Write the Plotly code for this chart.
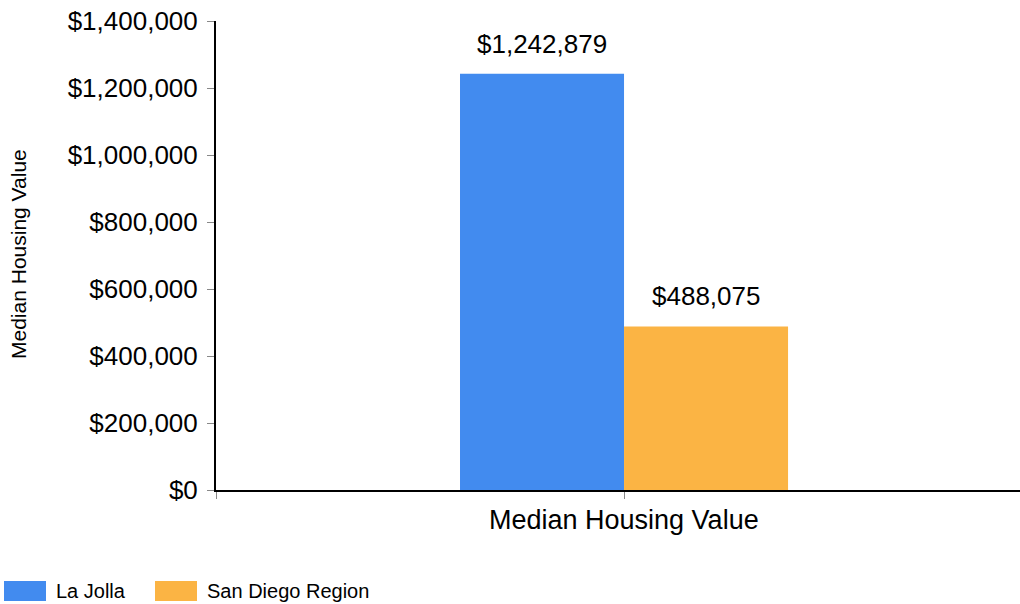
import plotly.graph_objects as go

series_names = ["La Jolla", "San Diego Region"]
values = [1242879, 488075]
colors = ["#428BEF", "#FBB444"]
category = "Median Housing Value"
y_ticks = [0, 200000, 400000, 600000, 800000, 1000000, 1200000, 1400000]

FONT = "Liberation Sans, Arial, sans-serif"
W, H = 1020, 604
L, R, T, B = 216, 0, 21, 114
PW, PH = W - L - R, H - T - B
BARGAP = 0.592
XR = [-0.5075, 0.4925]

def px_x(x):
    return (x - L) / PW

def px_y(y):
    return (H - B - y) / PH

fig = go.Figure()
for name, v, c in zip(series_names, values, colors):
    fig.add_trace(go.Bar(
        x=[0], y=[v], name=name, marker=dict(color=c, line=dict(width=0)),
        showlegend=False,
    ))

# value labels above bars
bw = (1 - BARGAP) / len(values)
for i, v in enumerate(values):
    xc = -(1 - BARGAP) / 2 + bw * (i + 0.5)
    fig.add_annotation(x=xc, y=v, xref="x", yref="y", text=f"${v:,.0f}",
                       showarrow=False, yanchor="bottom", yshift=13,
                       font=dict(family=FONT, size=26, color="#000"))

fig.update_layout(
    width=W, height=H,
    margin=dict(l=L, r=R, t=T, b=B),
    paper_bgcolor="white", plot_bgcolor="white",
    barmode="group", bargap=BARGAP, bargroupgap=0,
    font=dict(family=FONT, color="#000"),
    xaxis=dict(
        range=XR, tickvals=[XR[0], 0], ticktext=["", ""],
        ticks="outside", ticklen=7, tickcolor="#888", tickwidth=1,
        showline=True, linecolor="#000", linewidth=2, showgrid=False, zeroline=False,
    ),
    yaxis=dict(
        range=[0, 1400000], tickvals=y_ticks,
        ticktext=[f"${t:,.0f}" for t in y_ticks],
        tickfont=dict(family=FONT, size=26, color="#000"),
        ticks="outside", ticklen=7, tickcolor="#888", tickwidth=1,
        ticklabelstandoff=4,
        showline=True, linecolor="#000", linewidth=2, showgrid=False, zeroline=False,
    ),
)

# axis titles
fig.add_annotation(xref="paper", yref="paper", x=px_x(624), y=px_y(520),
                   text=category, showarrow=False, xanchor="center", yanchor="middle",
                   font=dict(family=FONT, size=27, color="#000"))
fig.add_annotation(xref="paper", yref="paper", x=px_x(18), y=px_y(254),
                   text=category, showarrow=False, textangle=-90,
                   xanchor="center", yanchor="middle",
                   font=dict(family=FONT, size=21, color="#000"))

# legend (custom swatches at bottom-left)
leg_x = [4, 155]
for name, c, lx in zip(series_names, colors, leg_x):
    fig.add_shape(type="rect", xref="paper", yref="paper",
                  x0=px_x(lx), x1=px_x(lx + 42),
                  y0=px_y(601), y1=px_y(581),
                  fillcolor=c, line=dict(width=0), layer="above")
    fig.add_annotation(xref="paper", yref="paper",
                       x=px_x(lx + 50), y=px_y(591),
                       text=name, showarrow=False, xanchor="left", yanchor="middle",
                       font=dict(family=FONT, size=20, color="#000"))

fig.write_html("out.html", config={"displayModeBar": False},
               post_script="document.body.style.margin='0';")
